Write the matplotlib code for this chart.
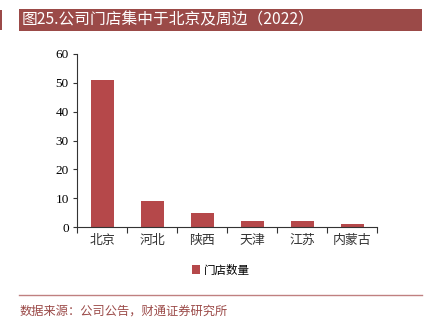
import matplotlib
matplotlib.use("Agg")
import matplotlib.pyplot as plt
from matplotlib.patches import Rectangle
from matplotlib.lines import Line2D

categories = ["北京", "河北", "陕西", "天津", "江苏", "内蒙古"]
values = [51, 9, 5, 2, 2, 1]
yticks = [0, 10, 20, 30, 40, 50, 60]
title = "图25.公司门店集中于北京及周边（2022）"
legend_label = "门店数量"
source = "数据来源：公司公告，财通证券研究所"

plt.rcParams['font.family'] = ['Noto Sans CJK SC', 'DejaVu Sans']

W, H = 442, 325
fig = plt.figure(figsize=(W/100, H/100), dpi=100)
fig.patch.set_facecolor('white')

title_color = '#9B4A48'
bar_color = '#B5484A'

# title bar
fig.add_artist(Rectangle((19/W, 1-31/H), (422-19)/W, 22/H, transform=fig.transFigure,
                         facecolor=title_color, edgecolor='none'))
fig.add_artist(Rectangle((0, 1-30/H), 2/W, 20/H, transform=fig.transFigure,
                         facecolor=title_color, edgecolor='none'))
fig.text(22/W, 1-20/H, title, color='white', fontsize=11.3, va='center', ha='left')

ax = fig.add_axes([77/W, 1-227/H, 300/W, 173/H])
x = list(range(len(categories)))
bars = ax.bar(x, values, width=0.46, color=bar_color, label=legend_label)
ax.set_xlim(-0.5, len(categories)-0.5)
ax.set_ylim(0, 60)
ax.set_yticks(yticks)
ax.set_yticklabels([str(t) for t in yticks], family='Liberation Serif', fontsize=9.5)
ax.set_xticks([i - 0.5 for i in range(len(categories)+1)])
ax.set_xticklabels([])
ax.set_xticks(x, minor=True)
ax.set_xticklabels(categories, minor=True, fontsize=9.3, color='#333333')
ax.tick_params(axis='x', which='minor', length=0, pad=5)
ax.tick_params(axis='x', which='major', length=4, direction='out', color='#333333')
ax.tick_params(axis='y', length=3, direction='out', color='#333333', pad=3)
for s in ['top', 'right']:
    ax.spines[s].set_visible(False)
for s in ['left', 'bottom']:
    ax.spines[s].set_color('#333333')
    ax.spines[s].set_linewidth(0.8)

leg = fig.legend(handles=[Rectangle((0, 0), 1, 1, facecolor=bar_color)], labels=[legend_label],
                 loc='center', bbox_to_anchor=(221/W, 1-270/H), frameon=False,
                 fontsize=8.3, handlelength=0.7, handleheight=0.7, handletextpad=0.3)

# bottom line
fig.add_artist(Line2D([19/W, 422/W], [1-295/H, 1-295/H], transform=fig.transFigure,
                      color='#C08080', linewidth=1))
fig.text(20/W, 1-311/H, source, color=title_color, fontsize=8.8, va='center', ha='left')

fig.savefig('out.png', dpi=100)
